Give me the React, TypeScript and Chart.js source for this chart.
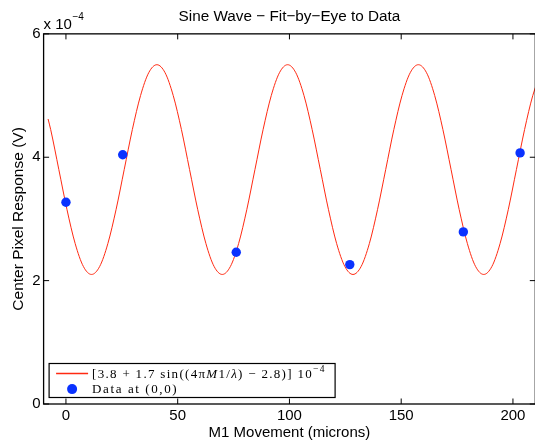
import React, { useEffect, useRef } from 'react';
import { Chart, registerables } from 'chart.js';

Chart.register(...registerables);

// ---------- text ----------
const chartTitle = 'Sine Wave \u2212 Fit\u2212by\u2212Eye to Data';
const xAxisLabel = 'M1 Movement (microns)';
const yAxisLabel = 'Center Pixel Response (V)';
const yExponentBase = 'x 10';
const yExponentPower = '\u22124';
const legendDataLabel = 'Data at (0,0)';
// fit label pieces: [text, italic?, superscript?]
const legendFitParts: [string, boolean, boolean][] = [
  ['[3.8 + 1.7 sin((4\u03C0', false, false],
  ['M', true, false],
  ['1/', false, false],
  ['\u03BB', true, false],
  [') \u2212 2.8)] 10', false, false],
  ['\u22124', false, true],
];

// ---------- axes ----------
const xTicks = [0, 50, 100, 150, 200];
const yTicks = [0, 2, 4, 6];
const xMin = -10;
const xMax = 210;
const yMin = 0;
const yMax = 6;

// ---------- measured data (units of 1e-4 V) ----------
const dataX = [0, 25.4, 76.2, 127, 177.8, 203.2];
const dataY = [3.27, 4.04, 2.46, 2.26, 2.79, 4.07];

// ---------- fitted curve (units of 1e-4 V) ----------
const fitX = [
  -8, -6.84, -3.18, 0.47, 4.13, 7.79, 11.44, 15.1, 18.75, 22.41, 26.07, 29.72, 33.38, 37.03, 40.69,
  44.35, 48.0, 51.66, 55.31, 58.97, 62.63, 66.28, 69.94, 73.59, 77.25, 80.91, 84.56, 88.22, 91.87, 95.53, 99.19,
  102.84, 106.5, 110.15, 113.81, 117.47, 121.12, 124.78, 128.43, 132.09, 135.75, 139.4, 143.06, 146.71, 150.37, 154.03, 157.68,
  161.34, 164.99, 168.65, 172.31, 175.96, 179.62, 183.27, 186.93, 190.59, 194.24, 197.9, 201.55, 205.21, 208.87, 212.52,
];
const fitY = [
  4.62, 4.45, 3.8, 3.15, 2.6, 2.23, 2.1, 2.23, 2.6, 3.15, 3.8, 4.45, 5.0, 5.37, 5.5,
  5.37, 5.0, 4.45, 3.8, 3.15, 2.6, 2.23, 2.1, 2.23, 2.6, 3.15, 3.8, 4.45, 5.0, 5.37, 5.5,
  5.37, 5.0, 4.45, 3.8, 3.15, 2.6, 2.23, 2.1, 2.23, 2.6, 3.15, 3.8, 4.45, 5.0, 5.37, 5.5,
  5.37, 5.0, 4.45, 3.8, 3.15, 2.6, 2.23, 2.1, 2.23, 2.6, 3.15, 3.8, 4.45, 5.0, 5.37,
];

// ---------- styles ----------
const FONT = '"Liberation Sans", Arial, Helvetica, sans-serif';
const SERIF = '"Liberation Serif", "Times New Roman", serif';
const RED = '#ff2a12';
const BLUE = '#0a32ff';

const framePlugin = {
  id: 'matlabFrame',
  afterDatasetsDraw(chart: any) {
    const { ctx, chartArea, scales } = chart;
    const { left, right, top, bottom } = chartArea;
    ctx.save();
    ctx.strokeStyle = '#000';
    ctx.lineWidth = 1.3;
    ctx.strokeRect(left, top, right - left, bottom - top);
    ctx.lineWidth = 1;
    ctx.beginPath();
    const tl = 5.5;
    xTicks.forEach((v) => {
      const px = scales.x.getPixelForValue(v);
      ctx.moveTo(px, bottom);
      ctx.lineTo(px, bottom - tl);
      ctx.moveTo(px, top);
      ctx.lineTo(px, top + tl);
    });
    yTicks.forEach((v) => {
      const py = scales.y.getPixelForValue(v);
      ctx.moveTo(left, py);
      ctx.lineTo(left + tl, py);
      ctx.moveTo(right, py);
      ctx.lineTo(right - tl, py);
    });
    ctx.stroke();
    // exponent label
    ctx.fillStyle = '#000';
    ctx.textAlign = 'left';
    ctx.textBaseline = 'alphabetic';
    ctx.font = `15px ${FONT}`;
    ctx.fillText(yExponentBase, left, top - 4.5);
    const w = ctx.measureText(yExponentBase).width;
    ctx.font = `10px ${FONT}`;
    ctx.fillText(yExponentPower, left + w + 0.5, top - 13.5);
    ctx.restore();
  },
};

const legendPlugin = {
  id: 'matlabLegend',
  afterDraw(chart: any) {
    const { ctx, chartArea } = chart;
    const { left, bottom } = chartArea;
    const bw = 286;
    const bh = 34;
    const bx = left + 5.5;
    const by = bottom - 6.5 - bh;
    ctx.save();
    ctx.fillStyle = '#fff';
    ctx.fillRect(bx, by, bw, bh);
    ctx.strokeStyle = '#000';
    ctx.lineWidth = 1.2;
    ctx.strokeRect(bx, by, bw, bh);
    // line sample
    ctx.strokeStyle = RED;
    ctx.lineWidth = 1.3;
    ctx.beginPath();
    ctx.moveTo(bx + 7, by + 10);
    ctx.lineTo(bx + 39, by + 10);
    ctx.stroke();
    // marker sample
    ctx.fillStyle = BLUE;
    ctx.beginPath();
    ctx.arc(bx + 23, by + 25.6, 5, 0, Math.PI * 2);
    ctx.fill();
    // text
    ctx.fillStyle = '#000';
    ctx.textAlign = 'left';
    ctx.textBaseline = 'alphabetic';
    (ctx as any).letterSpacing = '1.3px';
    let x = bx + 43;
    const y1 = by + 14;
    legendFitParts.forEach(([t, italic, sup]) => {
      const size = sup ? 9.5 : 13;
      ctx.font = `${italic ? 'italic ' : ''}${size}px ${SERIF}`;
      ctx.fillText(t, x, sup ? y1 - 5.5 : y1);
      x += ctx.measureText(t).width;
    });
    (ctx as any).letterSpacing = '1.6px';
    ctx.font = `13px ${SERIF}`;
    ctx.fillText(legendDataLabel, bx + 43, by + 29.5);
    ctx.restore();
  },
};

export default function App() {
  const canvasRef = useRef<HTMLCanvasElement | null>(null);

  useEffect(() => {
    const canvas = canvasRef.current;
    if (!canvas) return;
    const tickFont = { family: FONT, size: 15, weight: 'normal' as const };
    const chart = new Chart(canvas, {
      type: 'scatter',
      data: {
        datasets: [
          {
            label: 'fit',
            data: fitX.map((x, i) => ({ x, y: fitY[i] })),
            showLine: true,
            borderColor: RED,
            borderWidth: 1,
            pointRadius: 0,
            cubicInterpolationMode: 'monotone',
            order: 2,
          } as any,
          {
            label: 'data',
            data: dataX.map((x, i) => ({ x, y: dataY[i] })),
            pointRadius: 4.7,
            pointBackgroundColor: BLUE,
            backgroundColor: BLUE,
            pointBorderWidth: 0,
            borderWidth: 0,
            order: 1,
          },
        ],
      },
      options: {
        responsive: false,
        animation: false,
        events: [],
        layout: { padding: { left: 0, right: 3.6, top: 0, bottom: 0 } },
        plugins: {
          legend: { display: false },
          tooltip: { enabled: false },
          title: {
            display: true,
            fullSize: false,
            text: chartTitle,
            color: '#000',
            font: { family: FONT, size: 15.3, weight: 'normal' as const },
            padding: { top: 7.5, bottom: 8 },
          },
        },
        scales: {
          x: {
            type: 'linear',
            min: xMin,
            max: xMax,
            grid: { display: false, drawTicks: false },
            border: { display: false },
            ticks: { color: '#000', font: tickFont, padding: 3, maxRotation: 0, autoSkip: false },
            afterBuildTicks: (s: any) => {
              s.ticks = xTicks.map((v) => ({ value: v }));
            },
            afterFit: (s: any) => {
              s.height = 38;
            },
            title: {
              display: true,
              text: xAxisLabel,
              color: '#000',
              font: tickFont,
              padding: { top: 0, bottom: 0.5 },
            },
          },
          y: {
            type: 'linear',
            min: yMin,
            max: yMax,
            grid: { display: false, drawTicks: false },
            border: { display: false },
            ticks: { color: '#000', font: tickFont, padding: 3, autoSkip: false },
            afterBuildTicks: (s: any) => {
              s.ticks = yTicks.map((v) => ({ value: v }));
            },
            afterFit: (s: any) => {
              s.width = 43.6;
            },
            title: {
              display: true,
              text: yAxisLabel,
              color: '#000',
              font: { family: FONT, size: 15.5, weight: 'normal' as const },
              padding: { top: 9, bottom: 0 },
            },
          },
        },
      },
      plugins: [framePlugin, legendPlugin],
    });
    return () => chart.destroy();
  }, []);

  return (
    <div
      style={{
        position: 'fixed',
        left: 0,
        top: 0,
        width: 535,
        height: 442,
        overflow: 'hidden',
        background: '#fff',
      }}
    >
      <canvas ref={canvasRef} width={540} height={442} style={{ width: 540, height: 442, display: 'block' }} />
    </div>
  );
}
